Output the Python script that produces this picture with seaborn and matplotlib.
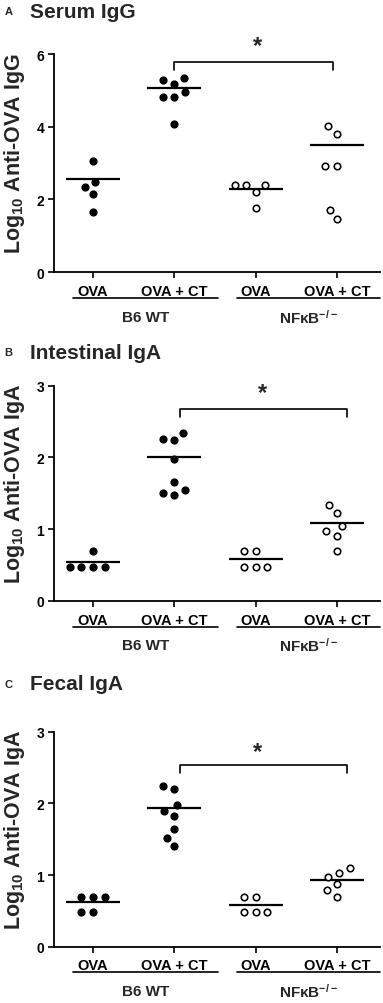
import numpy as np
import pandas as pd
import seaborn as sns
from matplotlib import pyplot as plt
from matplotlib import transforms

# categories
groups = ['B6 WT OVA', 'B6 WT OVA + CT', 'NFkB OVA', 'NFkB OVA + CT']
genotypes = ['B6 WT', 'B6 WT', 'NFkB', 'NFkB']
tick_labels = ['OVA', 'OVA + CT', 'OVA', 'OVA + CT']
genotype_labels = ['B6 WT', 'NFκB$^{-/-}$']

# panel A - serum IgG (log10)
serum_igg = [[3.06, 2.48, 2.35, 2.14, 1.66],
             [5.34, 5.29, 5.19, 4.96, 4.83, 4.83, 4.09],
             [2.40, 2.40, 2.40, 2.21, 1.76],
             [4.01, 3.81, 2.92, 2.92, 1.71, 1.47]]
serum_line = [2.57, 5.06, 2.28, 3.49]

# panel B - intestinal IgA
intestinal_iga = [[0.70, 0.48, 0.48, 0.48, 0.48],
                  [2.34, 2.26, 2.24, 1.98, 1.66, 1.54, 1.51, 1.47],
                  [0.70, 0.70, 0.48, 0.48, 0.48],
                  [1.34, 1.22, 1.05, 0.97, 0.91, 0.70]]
intestinal_line = [0.54, 2.01, 0.59, 1.08]

# panel C - fecal IgA
fecal_iga = [[0.70, 0.70, 0.70, 0.48, 0.48],
             [2.24, 2.20, 1.98, 1.90, 1.83, 1.64, 1.52, 1.40],
             [0.70, 0.70, 0.48, 0.48, 0.48],
             [1.10, 1.03, 0.97, 0.87, 0.79, 0.70]]
fecal_line = [0.62, 1.93, 0.58, 0.93]

sns.set_style('ticks')
plt.rcParams['font.family'] = ['Liberation Sans', 'DejaVu Sans']
plt.rcParams['font.weight'] = 'bold'
plt.rcParams['mathtext.fontset'] = 'custom'
plt.rcParams['mathtext.rm'] = 'Liberation Sans:bold'
plt.rcParams['mathtext.bf'] = 'Liberation Sans:bold'
plt.rcParams['mathtext.it'] = 'Liberation Sans:bold'
plt.rcParams['mathtext.default'] = 'bf'

fig = plt.figure(figsize=(3.83, 10.04), dpi=100)

panels = [
    dict(letter='A', title='Serum IgG', values=serum_igg, line=serum_line,
         ylabel='Log$_{10}$ Anti-OVA IgG', ymax=6, yticks=[0, 2, 4, 6],
         rect=[0.141, 0.728, 0.851, 0.217], title_y=0.988,
         bracket=(1.0, 2.95, 5.78, 5.57), star=(2.02, 6.23)),
    dict(letter='B', title='Intestinal IgA', values=intestinal_iga, line=intestinal_line,
         ylabel='Log$_{10}$ Anti-OVA IgA', ymax=3, yticks=[0, 1, 2, 3],
         rect=[0.141, 0.4004, 0.851, 0.2145], title_y=0.648,
         bracket=(1.07, 3.13, 2.675, 2.56), star=(2.09, 2.91)),
    dict(letter='C', title='Fecal IgA', values=fecal_iga, line=fecal_line,
         ylabel='Log$_{10}$ Anti-OVA IgA', ymax=3, yticks=[0, 1, 2, 3],
         rect=[0.141, 0.0561, 0.851, 0.214], title_y=0.318,
         bracket=(1.07, 3.13, 2.54, 2.42), star=(2.02, 2.73)),
]

swarms = []
for p in panels:
    ax = fig.add_axes(p['rect'])
    rows = []
    for g, gt, vals in zip(groups, genotypes, p['values']):
        for v in vals:
            rows.append({'group': g, 'genotype': gt, 'value': v})
    df = pd.DataFrame(rows)
    n_before = len(ax.collections)
    # swarm laid out with a larger footprint so the dots keep a small gap
    sns.swarmplot(data=df, x='group', y='value', hue='genotype', order=groups,
                  palette={'B6 WT': 'black', 'NFkB': 'white'},
                  edgecolor='black', linewidth=1.0, size=7.0,
                  legend=False, ax=ax)
    swarms.append((ax, list(ax.collections[n_before:])))
    sns.pointplot(x=groups, y=p['line'], order=groups, color='black',
                  linestyle='none', marker='_', markersize=39,
                  markeredgewidth=1.6, errorbar=None, ax=ax)
    ax.set_xlim(-0.48, 3.53)
    ax.set_ylim(0, p['ymax'])
    ax.set_yticks(p['yticks'])
    ax.set_yticklabels([str(t) for t in p['yticks']], fontsize=10, fontweight='bold')
    ax.set_xticks(range(4))
    ax.set_xticklabels(tick_labels, fontsize=10.5, fontweight='bold')
    ax.set_xlabel('')
    ax.set_ylabel(p['ylabel'], fontsize=15.5, fontweight='bold')
    ax.yaxis.set_label_coords(-0.083, 0.55)
    ax.tick_params(axis='both', direction='out', length=4, width=1.2,
                   color='black', labelcolor='black')
    ax.tick_params(axis='x', pad=4.5)
    ax.tick_params(axis='y', pad=3)
    sns.despine(ax=ax)
    for s in ['left', 'bottom']:
        ax.spines[s].set_linewidth(1.3)
        ax.spines[s].set_color('black')

    # genotype underlines and labels
    trans = transforms.blended_transform_factory(ax.transData, ax.transAxes)
    for (x0, x1), lab in zip([(-0.25, 1.54), (1.77, 3.53)], genotype_labels):
        ax.plot([x0, x1], [-0.12, -0.12], color='black', lw=1.2,
                transform=trans, clip_on=False)
        ax.text((x0 + x1) / 2, -0.205, lab, transform=trans, ha='center',
                va='center', fontsize=11, fontweight='bold')

    # significance bracket
    bx0, bx1, btop, bbot = p['bracket']
    ax.plot([bx0, bx0, bx1, bx1], [bbot, btop, btop, bbot], color='black',
            lw=1.2, clip_on=False)
    ax.text(p['star'][0], p['star'][1], '*', ha='center', va='center',
            fontsize=17, fontweight='bold')

    # panel titles
    fig.text(0.012, p['title_y'], p['letter'], fontsize=8, fontweight='bold',
             va='center', ha='left')
    fig.text(0.078, p['title_y'], p['title'], fontsize=15, fontweight='bold',
             va='center', ha='left')

# let seaborn place the swarm, then redraw the dots a bit smaller
fig.canvas.draw()
for ax, colls in swarms:
    for coll in colls:
        xy = np.asarray(coll.get_offsets())
        if len(xy) == 0:
            continue
        fc = coll.get_facecolor()[0]
        filled = fc[0] < 0.5
        coll.remove()
        ax.scatter(xy[:, 0], xy[:, 1], s=(4.9 if filled else 4.7) ** 2,
                   facecolor=fc, edgecolor='black',
                   linewidth=1.0 if filled else 1.15,
                   zorder=3, clip_on=False)

fig.savefig('out.png', dpi=100)
